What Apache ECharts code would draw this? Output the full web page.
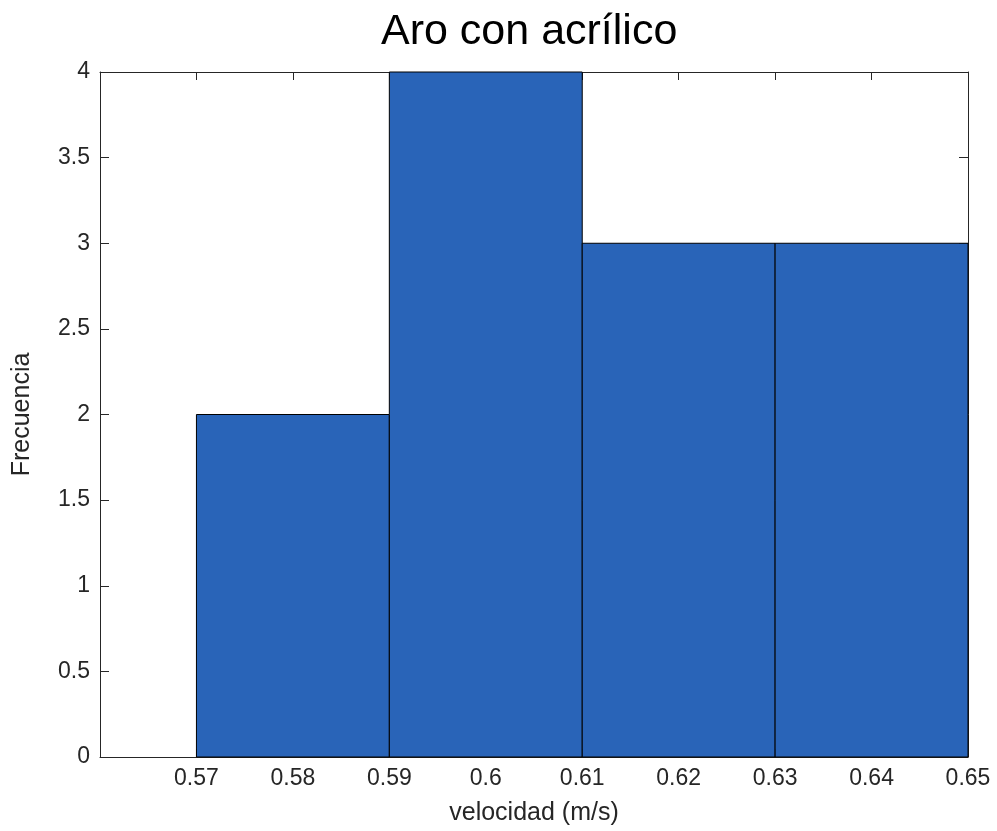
<!DOCTYPE html>
<html>
<head>
<meta charset="utf-8">
<script src="https://cdn.jsdelivr.net/npm/echarts@6/dist/echarts.min.js"></script>
<style>html,body{margin:0;padding:0;background:#fff;}#c{width:997px;height:831px;}</style>
</head>
<body>
<div id="c"></div>
<script>
const binStarts = [0.57, 0.59, 0.61, 0.63];
const binEnds = [0.59, 0.61, 0.63, 0.65];
const counts = [2, 4, 3, 3];
const titleText = 'Aro con acrílico';
const xName = 'velocidad (m/s)';
const yName = 'Frecuencia';

const data = binStarts.map((s, i) => [s, binEnds[i], counts[i]]);
const font = 'Liberation Sans, Arial, sans-serif';
const ink = '#262626';

const chart = echarts.init(document.getElementById('c'));
const commonX = {
  type: 'value', min: 0.56, max: 0.65, interval: 0.01,
  axisLine: { show: true, onZero: false, lineStyle: { color: ink, width: 1 } },
  axisTick: { show: true, inside: true, length: 8, lineStyle: { color: ink, width: 1 } },
  splitLine: { show: false }
};
const commonY = {
  type: 'value', min: 0, max: 4, interval: 0.5,
  axisLine: { show: true, onZero: false, lineStyle: { color: ink, width: 1 } },
  axisTick: { show: true, inside: true, length: 9, lineStyle: { color: ink, width: 1 } },
  splitLine: { show: false }
};
chart.setOption({
  animation: false,
  backgroundColor: '#fff',
  title: {
    text: titleText, left: 376, top: 6,
    textStyle: { fontFamily: font, fontSize: 43, fontWeight: 'normal', color: '#000' }
  },
  grid: { left: 100, right: 29, top: 72, bottom: 74 },
  xAxis: [
    Object.assign({}, commonX, {
      position: 'bottom',
      name: xName, nameLocation: 'middle', nameGap: 44,
      nameTextStyle: { fontFamily: font, fontSize: 25, color: ink },
      axisLabel: {
        show: true, margin: 10, fontFamily: font, fontSize: 23, color: ink,
        formatter: v => Math.abs(v - 0.56) < 1e-6 ? '' : String(+v.toFixed(2))
      }
    }),
    Object.assign({}, commonX, { position: 'top', axisLabel: { show: false } })
  ],
  yAxis: [
    Object.assign({}, commonY, {
      position: 'left',
      name: yName, nameLocation: 'middle', nameGap: 65,
      nameTextStyle: { fontFamily: font, fontSize: 25, color: ink },
      axisLabel: {
        show: true, margin: 10, fontFamily: font, fontSize: 23, color: ink,
        formatter: v => String(+v.toFixed(2))
      }
    }),
    Object.assign({}, commonY, { position: 'right', axisLabel: { show: false } })
  ],
  series: [{
    type: 'custom',
    xAxisIndex: 0, yAxisIndex: 0,
    data: data,
    encode: { x: [0, 1], y: 2 },
    renderItem: function (params, api) {
      const p0 = api.coord([api.value(0), api.value(2)]);
      const p1 = api.coord([api.value(1), 0]);
      return {
        type: 'rect',
        shape: { x: p0[0], y: p0[1], width: p1[0] - p0[0], height: p1[1] - p0[1] },
        style: { fill: '#2964B8', stroke: '#000', lineWidth: 1 }
      };
    }
  }]
});
</script>
</body>
</html>
